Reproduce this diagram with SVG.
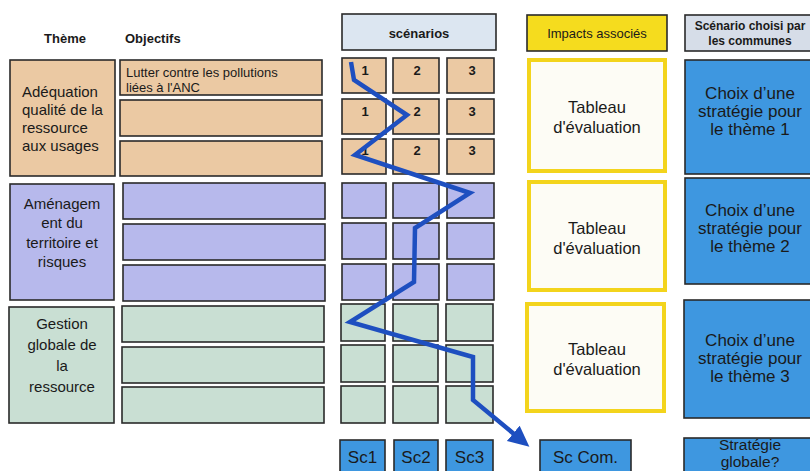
<svg xmlns="http://www.w3.org/2000/svg" width="810" height="471" viewBox="0 0 810 471">
<style>
text{font-family:"Liberation Sans",Arial,sans-serif;fill:#1a1a1a}
.b{stroke:#2a2a2a;stroke-width:1.6}
.or{fill:#ebc9a3}
.pu{fill:#b7b9ec}
.gr{fill:#c9dfd3}
.bl{fill:#3e97e0}
.hd{font-size:13px;font-weight:bold}
.th{font-size:15px}
.num{font-size:13px;font-weight:bold;text-anchor:middle}
.tab{fill:#fdfcf5;stroke:#f3d41c;stroke-width:4}
.tt{font-size:16.5px;text-anchor:middle}
.ct{font-size:17px;text-anchor:middle}
.sc{font-size:17px;text-anchor:middle}
.arr{fill:none;stroke:#1e4fc0;stroke-width:4.5;stroke-linejoin:miter}
</style>
<defs>
<marker id="ah" markerWidth="22" markerHeight="22" refX="1" refY="10" orient="auto" markerUnits="userSpaceOnUse">
<path d="M0,0 L21,10 L0,20 z" fill="#1e4fc0"/>
</marker>
</defs>
<rect width="810" height="471" fill="#ffffff"/>

<g id="headers">
<text class="hd" x="65" y="43" text-anchor="middle">Thème</text>
<text class="hd" x="125" y="43">Objectifs</text>
</g>

<g id="theme1">
<rect class="b or" x="10" y="60" width="105" height="116"/>
<text class="th" x="22" y="97">Adéquation</text>
<text class="th" x="22" y="115">qualité de la</text>
<text class="th" x="22" y="133">ressource</text>
<text class="th" x="22" y="151">aux usages</text>
</g>
<g id="theme2">
<rect class="b pu" x="10" y="184" width="104" height="116"/>
<text class="th" x="62" y="209" text-anchor="middle">Aménagem</text>
<text class="th" x="62" y="228" text-anchor="middle">ent du</text>
<text class="th" x="62" y="248" text-anchor="middle">territoire et</text>
<text class="th" x="62" y="267" text-anchor="middle">risques</text>
</g>
<g id="theme3">
<rect class="b gr" x="9" y="307" width="105" height="116"/>
<text class="th" x="62" y="329" text-anchor="middle" font-size="16">Gestion</text>
<text class="th" x="62" y="350" text-anchor="middle" font-size="16">globale de</text>
<text class="th" x="62" y="371" text-anchor="middle" font-size="16">la</text>
<text class="th" x="62" y="392" text-anchor="middle" font-size="16">ressource</text>
</g>

<g id="objectifs">
<rect class="b or" x="120" y="60" width="202" height="35"/>
<rect class="b or" x="120" y="100" width="202" height="36"/>
<rect class="b or" x="120" y="141" width="202" height="35"/>
<text x="126" y="77" font-size="13">Lutter contre les pollutions</text>
<text x="126" y="92" font-size="13">liées à l'ANC</text>
<rect class="b pu" x="123" y="183" width="202" height="36"/>
<rect class="b pu" x="123" y="224" width="202" height="36"/>
<rect class="b pu" x="123" y="265" width="202" height="36"/>
<rect class="b gr" x="122" y="306" width="202" height="36"/>
<rect class="b gr" x="122" y="347" width="202" height="36"/>
<rect class="b gr" x="122" y="387" width="202" height="36"/>
</g>

<g id="scenarios">
<rect class="b" x="342" y="14" width="154" height="36" fill="#dce6f1"/>
<text x="419" y="38" text-anchor="middle" font-size="13" font-weight="bold">scénarios</text>
<rect class="b or" x="342" y="58" width="44" height="35"/>
<rect class="b or" x="393" y="58" width="46" height="35"/>
<rect class="b or" x="447" y="58" width="47" height="35"/>
<rect class="b or" x="342" y="99" width="44" height="35"/>
<rect class="b or" x="393" y="99" width="46" height="35"/>
<rect class="b or" x="447" y="99" width="47" height="35"/>
<rect class="b or" x="342" y="139" width="44" height="35"/>
<rect class="b or" x="393" y="139" width="46" height="35"/>
<rect class="b or" x="447" y="139" width="47" height="35"/>
<text class="num" x="365" y="75">1</text>
<text class="num" x="417" y="75">2</text>
<text class="num" x="472" y="75">3</text>
<text class="num" x="365" y="116">1</text>
<text class="num" x="417" y="116">2</text>
<text class="num" x="472" y="116">3</text>
<text class="num" x="365" y="155">1</text>
<text class="num" x="417" y="155">2</text>
<text class="num" x="472" y="155">3</text>
<rect class="b pu" x="342" y="183" width="44" height="35"/>
<rect class="b pu" x="393" y="183" width="46" height="35"/>
<rect class="b pu" x="447" y="183" width="47" height="35"/>
<rect class="b pu" x="342" y="223" width="44" height="36"/>
<rect class="b pu" x="393" y="223" width="46" height="36"/>
<rect class="b pu" x="447" y="223" width="47" height="36"/>
<rect class="b pu" x="342" y="264" width="44" height="36"/>
<rect class="b pu" x="393" y="264" width="46" height="36"/>
<rect class="b pu" x="447" y="264" width="47" height="36"/>
<rect class="b gr" x="341" y="304" width="44" height="37"/>
<rect class="b gr" x="393" y="304" width="45" height="37"/>
<rect class="b gr" x="446" y="304" width="47" height="37"/>
<rect class="b gr" x="341" y="345" width="44" height="37"/>
<rect class="b gr" x="393" y="345" width="45" height="37"/>
<rect class="b gr" x="446" y="345" width="47" height="37"/>
<rect class="b gr" x="341" y="386" width="44" height="37"/>
<rect class="b gr" x="393" y="386" width="45" height="37"/>
<rect class="b gr" x="446" y="386" width="47" height="37"/>
</g>

<g id="sc1"><rect class="b bl" x="340" y="440" width="45" height="40"/><text class="sc" x="362.5" y="463">Sc1</text></g>
<g id="sc2"><rect class="b bl" x="394" y="440" width="44" height="40"/><text class="sc" x="416" y="463">Sc2</text></g>
<g id="sc3"><rect class="b bl" x="446" y="440" width="47" height="40"/><text class="sc" x="469.5" y="463">Sc3</text></g>

<g id="impacts">
<rect class="b" x="527" y="15" width="140" height="36" fill="#f5dc1e"/>
<text x="597" y="38" text-anchor="middle" font-size="13">Impacts associés</text>
</g>
<g id="tableau1">
<rect class="tab" x="529" y="60" width="136" height="111"/>
<text class="tt" x="597" y="113">Tableau</text>
<text class="tt" x="597" y="133">d'évaluation</text>
</g>
<g id="tableau2">
<rect class="tab" x="529" y="182" width="136" height="108"/>
<text class="tt" x="597" y="234">Tableau</text>
<text class="tt" x="597" y="254">d'évaluation</text>
</g>
<g id="tableau3">
<rect class="tab" x="527" y="304" width="137" height="107"/>
<text class="tt" x="597" y="355">Tableau</text>
<text class="tt" x="597" y="375">d'évaluation</text>
</g>
<g id="sccom"><rect class="b bl" x="540" y="440" width="91" height="40"/><text class="sc" x="585.5" y="463">Sc Com.</text></g>

<g id="choisi">
<rect class="b" x="685" y="15" width="130" height="36" fill="#d6dde8"/>
<text x="750" y="30" text-anchor="middle" font-size="12" font-weight="bold">Scénario choisi par</text>
<text x="750" y="45" text-anchor="middle" font-size="12" font-weight="bold">les communes</text>
</g>
<g id="choix1">
<rect class="b bl" x="685" y="60" width="130" height="114"/>
<text class="ct" x="750" y="99">Choix d’une</text>
<text class="ct" x="750" y="117">stratégie pour</text>
<text class="ct" x="750" y="135">le thème 1</text>
</g>
<g id="choix2">
<rect class="b bl" x="685" y="178" width="130" height="106"/>
<text class="ct" x="750" y="216">Choix d’une</text>
<text class="ct" x="750" y="234">stratégie pour</text>
<text class="ct" x="750" y="252">le thème 2</text>
</g>
<g id="choix3">
<rect class="b bl" x="684" y="300" width="131" height="118"/>
<text class="ct" x="750" y="346">Choix d’une</text>
<text class="ct" x="750" y="364">stratégie pour</text>
<text class="ct" x="750" y="382">le thème 3</text>
</g>
<g id="globale">
<rect class="b bl" x="684" y="438" width="131" height="42"/>
<text x="750" y="450" text-anchor="middle" font-size="15.5">Stratégie</text>
<text x="750" y="467" text-anchor="middle" font-size="15.5">globale?</text>
</g>

<g id="connectors">
<path class="arr" d="M351,62 L354,80 L407,115 L355,155 L470,193 L415,228 L414,282 L350,322 L473,357 L473,400 L514,434" marker-end="url(#ah)"/>
</g>
</svg>
